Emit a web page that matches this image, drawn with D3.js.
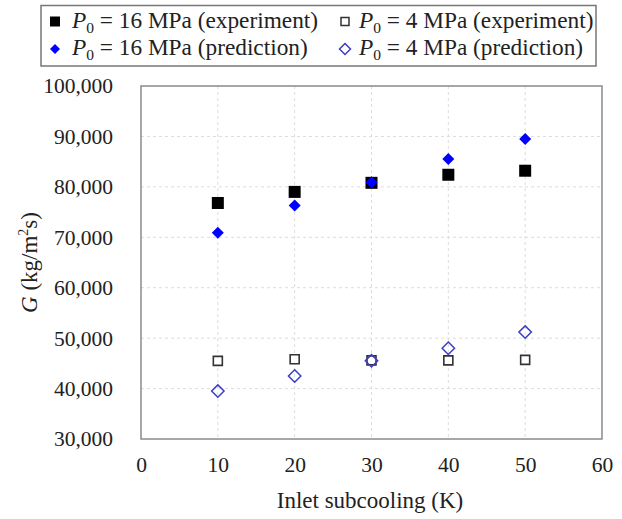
<!DOCTYPE html>
<html>
<head>
<meta charset="utf-8">
<script src="https://cdn.jsdelivr.net/npm/d3@7"></script>
<style>
  html, body { margin: 0; padding: 0; background: #fff; }
  svg { display: block; }
  text { font-family: "Liberation Serif", "Times New Roman", serif; fill: #222; }
</style>
</head>
<body>
<svg id="chart" width="622" height="519"></svg>
<script>
// Inlet subcooling (K)
const subcooling = [10, 20, 30, 40, 50];
// Mass flux G (kg/m²s)
const exp16 = [76800, 79000, 80800, 82400, 83200];
const pred16 = [70900, 76300, 80900, 85500, 89500];
const exp4 = [45500, 45800, 45600, 45600, 45700];
const pred4 = [39500, 42500, 45500, 48000, 51200];

const xTicks = [0, 10, 20, 30, 40, 50, 60];
const yTicks = [30000, 40000, 50000, 60000, 70000, 80000, 90000, 100000];

const svg = d3.select("#chart");
const plot = { left: 141, right: 602, top: 86, bottom: 439 };

const x = d3.scaleLinear().domain([0, 60]).range([plot.left, plot.right]);
const y = d3.scaleLinear().domain([30000, 100000]).range([plot.bottom, plot.top]);
const fmt = d3.format(",");

// gridlines
const grid = svg.append("g");
grid.selectAll("line.v").data(xTicks.slice(1, -1)).join("line")
  .attr("x1", d => x(d)).attr("x2", d => x(d))
  .attr("y1", plot.top).attr("y2", plot.bottom)
  .attr("stroke", "#dcdcdc").attr("stroke-width", 1).attr("stroke-dasharray", "3,3");
grid.selectAll("line.h").data(yTicks.slice(1, -1)).join("line")
  .attr("x1", plot.left).attr("x2", plot.right)
  .attr("y1", d => y(d)).attr("y2", d => y(d))
  .attr("stroke", "#dcdcdc").attr("stroke-width", 1).attr("stroke-dasharray", "3,3");

// frame
svg.append("rect")
  .attr("x", plot.left).attr("y", plot.top)
  .attr("width", plot.right - plot.left).attr("height", plot.bottom - plot.top)
  .attr("fill", "none").attr("stroke", "#8a8a8a").attr("stroke-width", 1.5);

// axes
const xAxis = svg.append("g")
  .attr("transform", `translate(0,${plot.bottom})`)
  .call(d3.axisBottom(x).tickValues(xTicks).tickSize(0).tickPadding(18));
const yAxis = svg.append("g")
  .attr("transform", `translate(${plot.left},0)`)
  .call(d3.axisLeft(y).tickValues(yTicks).tickFormat(fmt).tickSize(0).tickPadding(28));
[xAxis, yAxis].forEach(a => {
  a.select(".domain").remove();
  a.selectAll("text").attr("font-family", "Liberation Serif").attr("font-size", 21.5).attr("fill", "#222");
});

// axis titles
svg.append("text")
  .attr("x", 370).attr("y", 508)
  .attr("text-anchor", "middle").attr("font-size", 23)
  .text("Inlet subcooling (K)");

const yTitle = svg.append("text")
  .attr("transform", `translate(37,${(plot.top + plot.bottom) / 2}) rotate(-90)`)
  .attr("text-anchor", "middle").attr("font-size", 23);
yTitle.append("tspan").attr("font-style", "italic").text("G");
yTitle.append("tspan").text(" (kg/m");
yTitle.append("tspan").attr("font-size", 14).attr("dy", -9).text("2");
yTitle.append("tspan").attr("dy", 9).text("s)");

// marker shapes
const squarePath = s => `M${-s / 2},${-s / 2}h${s}v${s}h${-s}Z`;
const diamondPath = r => `M0,${-r}L${r},0L0,${r}L${-r},0Z`;

const pts = vals => subcooling.map((k, i) => ({ k, v: vals[i] }));

function drawSeries(vals, path, style) {
  svg.append("g").selectAll("path").data(pts(vals)).join("path")
    .attr("transform", d => `translate(${x(d.k)},${y(d.v)})`)
    .attr("d", path)
    .attr("fill", style.fill)
    .attr("stroke", style.stroke || "none")
    .attr("stroke-width", style.sw || 0);
}

drawSeries(exp16, squarePath(12), { fill: "#000" });
drawSeries(exp4, squarePath(9), { fill: "#fff", stroke: "#333", sw: 1.6 });
drawSeries(pred16, diamondPath(6), { fill: "#0000ff" });
drawSeries(pred4, diamondPath(6.2), { fill: "none", stroke: "#3c3cc8", sw: 1.5 });

// legend
const legend = svg.append("g");
legend.append("rect")
  .attr("x", 41).attr("y", 5.5).attr("width", 555).attr("height", 60.5)
  .attr("fill", "#fff").attr("stroke", "#777").attr("stroke-width", 1.5);

const legendItems = [
  { mx: 55, my: 21.5, tx: 72, ty: 28, path: squarePath(10), fill: "#000", p: "16", kind: "experiment" },
  { mx: 345, my: 21.5, tx: 359, ty: 28, path: squarePath(8), fill: "#fff", stroke: "#333", sw: 1.5, p: "4", kind: "experiment" },
  { mx: 55, my: 49, tx: 72, ty: 55, path: diamondPath(5), fill: "#0000ff", p: "16", kind: "prediction" },
  { mx: 345, my: 49, tx: 359, ty: 55, path: diamondPath(5.5), fill: "none", stroke: "#3c3cc8", sw: 1.5, p: "4", kind: "prediction" }
];

legendItems.forEach(it => {
  legend.append("path")
    .attr("transform", `translate(${it.mx},${it.my})`)
    .attr("d", it.path).attr("fill", it.fill)
    .attr("stroke", it.stroke || "none").attr("stroke-width", it.sw || 0);
  const t = legend.append("text").attr("x", it.tx).attr("y", it.ty).attr("font-size", 23.3);
  t.append("tspan").attr("font-style", "italic").text("P");
  t.append("tspan").attr("font-size", 15.5).attr("dy", 5).text("0");
  t.append("tspan").attr("dy", -5).text(` = ${it.p} MPa (${it.kind})`);
});
</script>
</body>
</html>
